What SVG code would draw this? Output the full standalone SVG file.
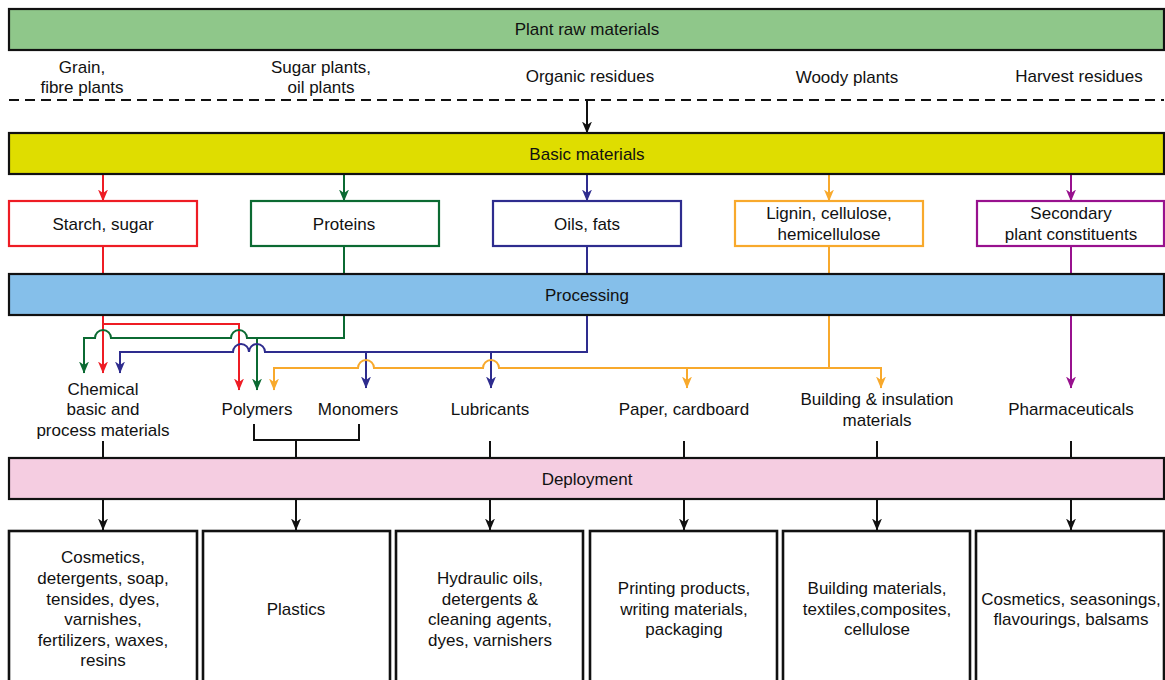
<svg xmlns="http://www.w3.org/2000/svg" width="1165" height="680" viewBox="0 0 1165 680">
<style>
text{font-family:"Liberation Sans",Arial,Helvetica,sans-serif;font-size:17px;fill:#111;text-anchor:middle}
.bar{stroke:#111;stroke-width:2.2}
.box{fill:#fff;stroke-width:2.2}
.out{fill:#fff;stroke:#111;stroke-width:2.6}
.ln{fill:none;stroke-width:2}
.k{stroke:#111}.r{stroke:#ee1c24}.g{stroke:#0b6a32}.b{stroke:#2e2c8e}.o{stroke:#f8a92c}.p{stroke:#98118e}
</style>
<defs>
<marker id="ak" viewBox="0 0 12 10" refX="11.5" refY="5" markerWidth="12" markerHeight="10" markerUnits="userSpaceOnUse" orient="auto"><path d="M0,0L12,5L0,10L3.5,5z" fill="#111"/></marker>
<marker id="ar" viewBox="0 0 12 10" refX="11.5" refY="5" markerWidth="12" markerHeight="10" markerUnits="userSpaceOnUse" orient="auto"><path d="M0,0L12,5L0,10L3.5,5z" fill="#ee1c24"/></marker>
<marker id="ag" viewBox="0 0 12 10" refX="11.5" refY="5" markerWidth="12" markerHeight="10" markerUnits="userSpaceOnUse" orient="auto"><path d="M0,0L12,5L0,10L3.5,5z" fill="#0b6a32"/></marker>
<marker id="ab" viewBox="0 0 12 10" refX="11.5" refY="5" markerWidth="12" markerHeight="10" markerUnits="userSpaceOnUse" orient="auto"><path d="M0,0L12,5L0,10L3.5,5z" fill="#2e2c8e"/></marker>
<marker id="ao" viewBox="0 0 12 10" refX="11.5" refY="5" markerWidth="12" markerHeight="10" markerUnits="userSpaceOnUse" orient="auto"><path d="M0,0L12,5L0,10L3.5,5z" fill="#f8a92c"/></marker>
<marker id="ap" viewBox="0 0 12 10" refX="11.5" refY="5" markerWidth="12" markerHeight="10" markerUnits="userSpaceOnUse" orient="auto"><path d="M0,0L12,5L0,10L3.5,5z" fill="#98118e"/></marker>
</defs>

<g id="connectors">
  <line x1="9" y1="100" x2="1164" y2="100" class="ln k" stroke-dasharray="10,6"/>
  <path d="M587,100V133" class="ln k" marker-end="url(#ak)"/>
  <path d="M103,174V201" class="ln r" marker-end="url(#ar)"/>
  <path d="M344,174V201" class="ln g" marker-end="url(#ag)"/>
  <path d="M587,174V201" class="ln b" marker-end="url(#ab)"/>
  <path d="M829,174V201" class="ln o" marker-end="url(#ao)"/>
  <path d="M1071,174V201" class="ln p" marker-end="url(#ap)"/>
  <path d="M103,246V274" class="ln r"/>
  <path d="M344,246V274" class="ln g"/>
  <path d="M587,246V274" class="ln b"/>
  <path d="M829,246V274" class="ln o"/>
  <path d="M1071,246V274" class="ln p"/>
  <path d="M103,315V373" class="ln r" marker-end="url(#ar)"/>
  <path d="M103,324H239V390" class="ln r" marker-end="url(#ar)"/>
  <path d="M344,315V338H247A8,8 0 0 0 231,338H111A8,8 0 0 0 95,338H84V373" class="ln g" marker-end="url(#ag)"/>
  <path d="M257,338V390" class="ln g" marker-end="url(#ag)"/>
  <path d="M587,315V352H265A8,8 0 0 0 249,352A8,8 0 0 0 233,352H120V373" class="ln b" marker-end="url(#ab)"/>
  <path d="M366,352V388" class="ln b" marker-end="url(#ab)"/>
  <path d="M491,352V388" class="ln b" marker-end="url(#ab)"/>
  <path d="M829,315V368H881V388" class="ln o" marker-end="url(#ao)"/>
  <path d="M829,368H499A8,8 0 0 0 483,368H374A8,8 0 0 0 358,368H274V390" class="ln o" marker-end="url(#ao)"/>
  <path d="M687,368V388" class="ln o" marker-end="url(#ao)"/>
  <path d="M1071,315V388" class="ln p" marker-end="url(#ap)"/>
  <path d="M103,441V458" class="ln k"/>
  <path d="M254,424V440H359V424M296,440V458" class="ln k"/>
  <path d="M490,441V458" class="ln k"/>
  <path d="M684,441V458" class="ln k"/>
  <path d="M877,441V458" class="ln k"/>
  <path d="M1071,441V458" class="ln k"/>
  <path d="M103,499V530" class="ln k" marker-end="url(#ak)"/>
  <path d="M296,499V530" class="ln k" marker-end="url(#ak)"/>
  <path d="M490,499V530" class="ln k" marker-end="url(#ak)"/>
  <path d="M684,499V530" class="ln k" marker-end="url(#ak)"/>
  <path d="M877,499V530" class="ln k" marker-end="url(#ak)"/>
  <path d="M1071,499V530" class="ln k" marker-end="url(#ak)"/>
</g>

<g id="raw"><rect x="9" y="9" width="1155" height="41" fill="#8fc78a" class="bar"/><text x="587" y="35">Plant raw materials</text></g>
<g id="sources">
  <text x="82" y="73">Grain,</text><text x="82" y="93">fibre plants</text>
  <text x="321" y="73">Sugar plants,</text><text x="321" y="93">oil plants</text>
  <text x="590" y="82">Organic residues</text>
  <text x="847" y="83">Woody plants</text>
  <text x="1079" y="82">Harvest residues</text>
</g>
<g id="basic"><rect x="9" y="133" width="1155" height="41" fill="#dfdd00" class="bar"/><text x="587" y="160">Basic materials</text></g>
<g id="starch"><rect x="9" y="201" width="188" height="45" class="box r"/><text x="103" y="230">Starch, sugar</text></g>
<g id="proteins"><rect x="251" y="201" width="188" height="45" class="box g"/><text x="344" y="230">Proteins</text></g>
<g id="oils"><rect x="493" y="201" width="188" height="45" class="box b"/><text x="587" y="230">Oils, fats</text></g>
<g id="lignin"><rect x="735" y="201" width="188" height="45" class="box o"/><text x="829" y="219">Lignin, cellulose,</text><text x="829" y="240">hemicellulose</text></g>
<g id="secondary"><rect x="977" y="201" width="187" height="45" class="box p"/><text x="1071" y="219">Secondary</text><text x="1071" y="240">plant constituents</text></g>
<g id="processing"><rect x="9" y="274" width="1155" height="41" fill="#85bfea" class="bar"/><text x="587" y="301">Processing</text></g>

<g id="chemical"><text x="103" y="395">Chemical</text><text x="103" y="415">basic and</text><text x="103" y="436">process materials</text></g>
<g id="polymers"><text x="257" y="415">Polymers</text></g>
<g id="monomers"><text x="358" y="415">Monomers</text></g>
<g id="lubricants"><text x="490" y="415">Lubricants</text></g>
<g id="paper"><text x="684" y="415">Paper, cardboard</text></g>
<g id="building"><text x="877" y="405">Building &amp; insulation</text><text x="877" y="426">materials</text></g>
<g id="pharma"><text x="1071" y="415">Pharmaceuticals</text></g>

<g id="deployment"><rect x="9" y="458" width="1155" height="41" fill="#f5cde1" class="bar"/><text x="587" y="485">Deployment</text></g>

<g id="out1"><rect x="9" y="531" width="188" height="160" class="out"/>
  <text x="103" y="563">Cosmetics,</text><text x="103" y="584">detergents, soap,</text><text x="103" y="605">tensides, dyes,</text><text x="103" y="625">varnishes,</text><text x="103" y="646">fertilizers, waxes,</text><text x="103" y="666">resins</text></g>
<g id="out2"><rect x="203" y="531" width="187" height="160" class="out"/><text x="296" y="615">Plastics</text></g>
<g id="out3"><rect x="396" y="531" width="187" height="160" class="out"/>
  <text x="490" y="584">Hydraulic oils,</text><text x="490" y="605">detergents &amp;</text><text x="490" y="625">cleaning agents,</text><text x="490" y="646">dyes, varnishers</text></g>
<g id="out4"><rect x="590" y="531" width="187" height="160" class="out"/>
  <text x="684" y="594">Printing products,</text><text x="684" y="615">writing materials,</text><text x="684" y="635">packaging</text></g>
<g id="out5"><rect x="783" y="531" width="187" height="160" class="out"/>
  <text x="877" y="594">Building materials,</text><text x="877" y="615">textiles,composites,</text><text x="877" y="635">cellulose</text></g>
<g id="out6"><rect x="976" y="531" width="188" height="160" class="out"/>
  <text x="1071" y="605">Cosmetics, seasonings,</text><text x="1071" y="625">flavourings, balsams</text></g>
</svg>
